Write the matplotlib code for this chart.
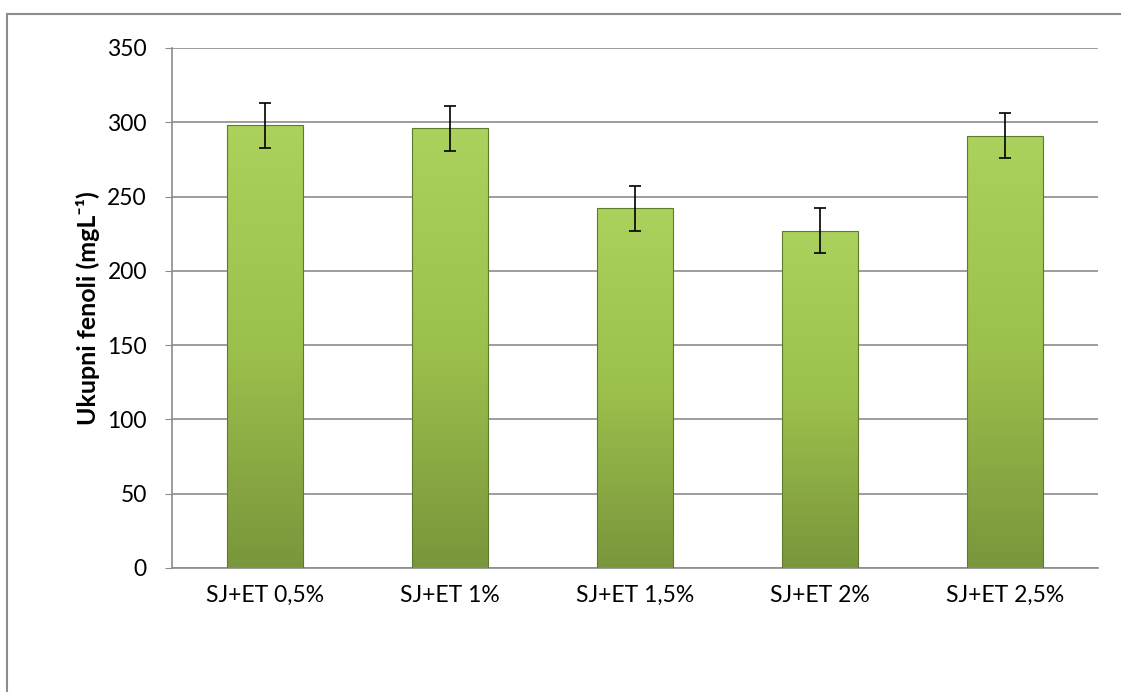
import numpy as np
import matplotlib
matplotlib.use("Agg")
import matplotlib.pyplot as plt
from matplotlib.patches import Rectangle
from matplotlib.colors import LinearSegmentedColormap

categories = ["SJ+ET 0,5%", "SJ+ET 1%", "SJ+ET 1,5%", "SJ+ET 2%", "SJ+ET 2,5%"]
values = [298, 296, 242, 227, 291]
errors = [15, 15, 15, 15, 15]
yticks = [0, 50, 100, 150, 200, 250, 300, 350]

plt.rcParams['font.family'] = ['Lato', 'DejaVu Sans']

fig = plt.figure(figsize=(11.21, 6.92), dpi=100)
ax = fig.add_axes([172/1121, 1 - 568/692, (1098-172)/1121, (568-48)/692])

# outer chart border (only top and left visible)
fig.add_artist(Rectangle((7/1121, -0.1), 1.2, 1 - 14/692 + 0.1, transform=fig.transFigure,
                         fill=False, edgecolor='#8c8c8c', lw=1.5))

x = np.arange(len(categories))
w = 0.41
cmap = LinearSegmentedColormap.from_list('g', ['#7a963c', '#9cc04c', '#abd25c'])
grad = np.linspace(0, 1, 256).reshape(-1, 1)

for xi, v in zip(x, values):
    r = Rectangle((xi - w/2, 0), w, v, facecolor='none', edgecolor='#5f7a2c', lw=0.8, zorder=3)
    ax.add_patch(r)
    im = ax.imshow(grad, cmap=cmap, extent=(xi - w/2, xi + w/2, 0, v), origin='lower',
                   aspect='auto', zorder=2)
    im.set_clip_path(r)

ax.errorbar(x, values, yerr=errors, fmt='none', ecolor='black', elinewidth=1.2,
            capsize=4.5, capthick=1.2, zorder=4)

ax.set_xlim(-0.5, len(categories) - 0.5)
ax.set_ylim(0, 350)
ax.set_yticks(yticks)
ax.set_xticks(x)
ax.set_xticklabels(categories)
ax.yaxis.grid(True, color='#8c8c8c', lw=1.2)
ax.set_axisbelow(True)
for s in ['top', 'right']:
    ax.spines[s].set_visible(False)
for s in ['left', 'bottom']:
    ax.spines[s].set_color('#8c8c8c')
    ax.spines[s].set_linewidth(1.2)
ax.tick_params(axis='y', length=5, color='#8c8c8c', labelsize=16.5, pad=13)
ax.tick_params(axis='x', length=0, labelsize=16.5, pad=12)
ax.set_ylabel("Ukupni fenoli (mgL⁻¹)", fontsize=18, fontweight='bold', labelpad=5)

fig.savefig("out.png", dpi=100)
